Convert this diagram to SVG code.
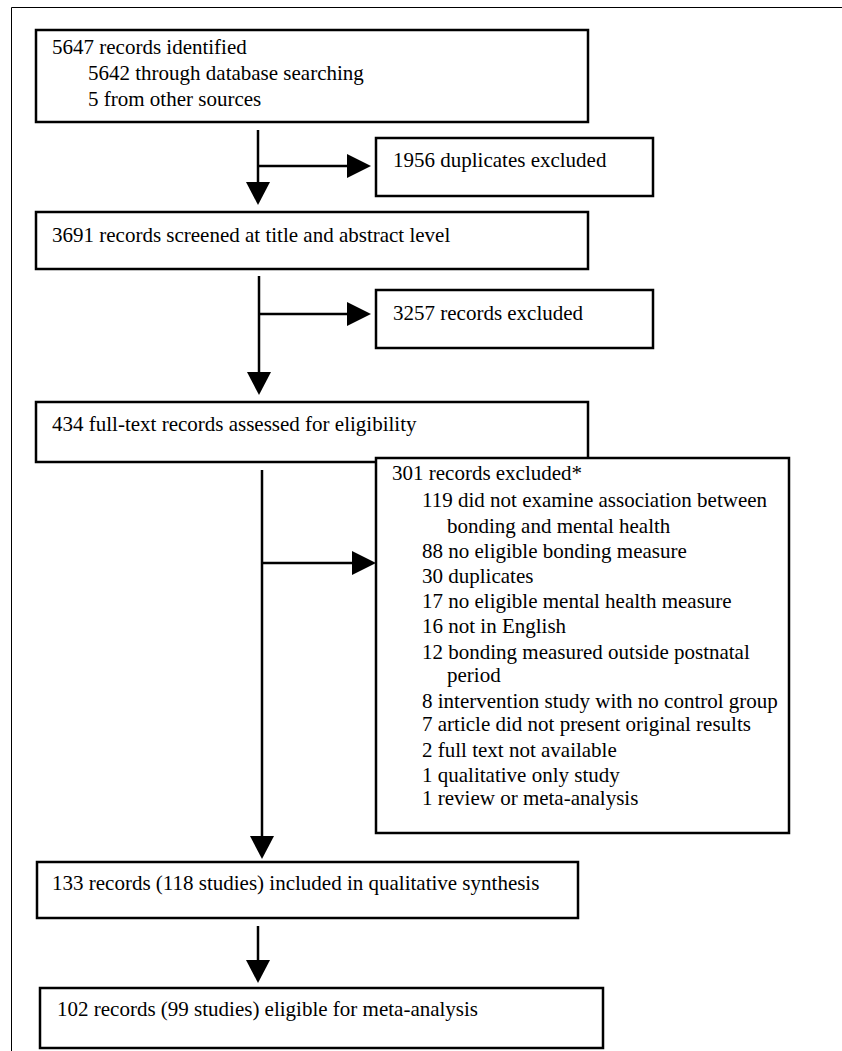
<svg xmlns="http://www.w3.org/2000/svg" width="842" height="1051" viewBox="0 0 842 1051">
<style>
.box{fill:#fff;stroke:#000;stroke-width:2.5}
.ln{stroke:#000;stroke-width:2.5;fill:none}
.frame{stroke:#000;stroke-width:1;fill:none}
</style>
<rect width="842" height="1051" fill="#fff"/>
<path class="frame" d="M11.5,1051 V7.5 H842"/>
<g id="connectors">
<line class="ln" x1="258" y1="130" x2="258" y2="184"/><path d="M246,182 L270,182 L258,205 Z"/>
<line class="ln" x1="258" y1="166" x2="348" y2="166"/><path d="M347,154 L347,178 L371,166 Z"/>
<line class="ln" x1="259" y1="276" x2="259" y2="374"/><path d="M247,372 L271,372 L259,395 Z"/>
<line class="ln" x1="259" y1="314" x2="348" y2="314"/><path d="M347,302 L347,326 L371,314 Z"/>
<line class="ln" x1="262" y1="470" x2="262" y2="838"/><path d="M250,836 L274,836 L262,859 Z"/>
<line class="ln" x1="262" y1="563" x2="353" y2="563"/><path d="M352,551 L352,575 L376,563 Z"/>
<line class="ln" x1="258" y1="926" x2="258" y2="962"/><path d="M246,960 L270,960 L258,983 Z"/>
</g>
<g font-family="Liberation Serif, Times New Roman, serif" font-size="21" fill="#000">
<g id="n1"><rect class="box" x="36" y="30" width="552" height="92"/>
<text x="52" y="54">5647 records identified</text>
<text x="88" y="80">5642 through database searching</text>
<text x="88" y="106">5 from other sources</text></g>
<g id="n2"><rect class="box" x="376" y="138" width="277" height="58"/><text x="393" y="167">1956 duplicates excluded</text></g>
<g id="n3"><rect class="box" x="36" y="212" width="552" height="57"/><text x="52" y="242">3691 records screened at title and abstract level</text></g>
<g id="n4"><rect class="box" x="376" y="290" width="277" height="58"/><text x="393" y="320">3257 records excluded</text></g>
<g id="n5"><rect class="box" x="36" y="402" width="552" height="60"/><text x="52" y="431">434 full-text records assessed for eligibility</text></g>
<g id="n6"><rect class="box" x="376" y="458" width="413" height="375"/>
<text x="392" y="480">301 records excluded*</text>
<text x="422" y="507">119 did not examine association between</text>
<text x="447" y="533">bonding and mental health</text>
<text x="422" y="558">88 no eligible bonding measure</text>
<text x="422" y="583">30 duplicates</text>
<text x="422" y="608">17 no eligible mental health measure</text>
<text x="422" y="633">16 not in English</text>
<text x="422" y="659">12 bonding measured outside postnatal</text>
<text x="447" y="682">period</text>
<text x="422" y="708">8 intervention study with no control group</text>
<text x="422" y="731">7 article did not present original results</text>
<text x="422" y="757">2 full text not available</text>
<text x="422" y="782">1 qualitative only study</text>
<text x="422" y="805">1 review or meta-analysis</text></g>
<g id="n7"><rect class="box" x="37" y="862" width="541" height="56"/><text x="52" y="890">133 records (118 studies) included in qualitative synthesis</text></g>
<g id="n8"><rect class="box" x="40" y="988" width="563" height="60"/><text x="57" y="1016">102 records (99 studies) eligible for meta-analysis</text></g>
</g>
</svg>
